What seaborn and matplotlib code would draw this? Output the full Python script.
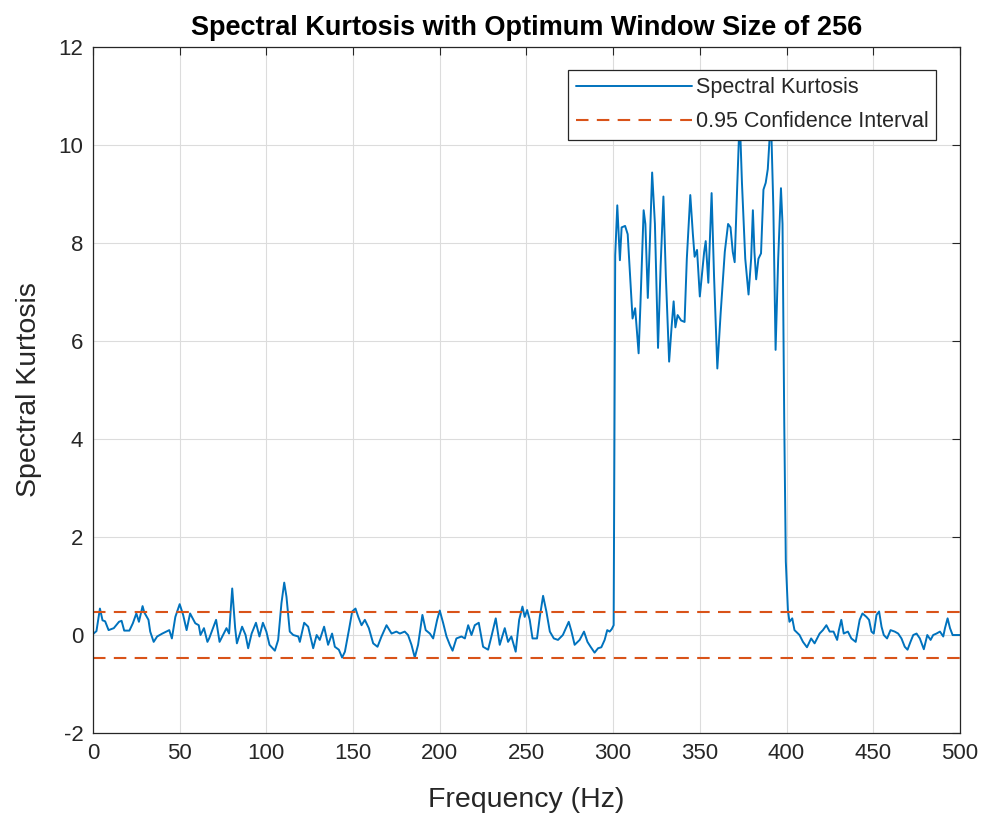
import numpy as np
import pandas as pd
import seaborn as sns
import matplotlib
matplotlib.use("Agg")
import matplotlib.pyplot as plt

# data
freq = [0, 2, 4, 5.5, 7, 9, 12, 15, 16.5, 18, 21, 23, 25, 26.5, 28.6, 29.6, 32, 33, 35, 37,
        40, 44, 45.5, 47.5, 50, 52, 54, 56, 59, 61, 62, 64, 66, 67, 71, 73, 75, 77, 78.5, 80.3,
        82, 83, 86, 88, 89.5, 91.5, 94, 96, 98, 100, 101.8, 104.9, 106.8, 108.7, 110.3, 111.6,
        113.5, 115.5, 118.4, 119.3, 121.8, 124.1, 127, 129, 130.8, 133.3, 135.6, 137.9, 139.5,
        141.8, 143.7, 145.3, 147.6, 149.5, 151.4, 153, 154.9, 156.8, 159.1, 161.6, 164.1, 166.4,
        169.3, 172.2, 175, 177, 179.8, 181.7, 183.7, 185.6, 187.5, 190, 191.9, 194.3, 196.2,
        198.5, 200, 202, 203.9, 205.8, 207.4, 209.6, 212.5, 214.5, 216.4, 218.3, 220.2, 222.5,
        225, 227.9, 229.8, 232.3, 234.6, 237.5, 239.4, 241.3, 243.8, 245.8, 247.7, 249, 250.4,
        251.9, 253.5, 256.1, 257.7, 259.6, 261.5, 263.5, 265.8, 268.2, 271, 274.4, 276, 277.8,
        280.7, 283.2, 285.2, 287, 289.3, 291.3, 293.2, 295.1, 296.6, 298, 299.2, 300.3, 301.2,
        302.4, 303.9, 304.9, 306.9, 308.4, 309.8, 311.2, 312.7, 314.7, 315.7, 317.6, 318.6, 320,
        321.2, 322.5, 324.1, 325.9, 327.4, 329, 330.4, 332.3, 333.7, 334.9, 335.9, 337.2, 339.2,
        341.2, 342.5, 344.5, 346, 347, 348.4, 350, 352.5, 353.4, 354.9, 356.8, 358.2, 360.1, 362,
        364.4, 366.3, 367.7, 369, 370.1, 371.5, 373, 374.3, 376.2, 378.1, 379.6, 380.6, 381.5,
        382.5, 383.8, 385.3, 386.7, 388, 389.2, 391, 392.4, 393.7, 395.2, 396.8, 397.7, 398.7,
        399.6, 400.8, 401.7, 403.3, 404.6, 407.5, 409.5, 411.8, 414.2, 416.2, 419.1, 421, 423,
        424.9, 427.1, 429.2, 430.2, 431.6, 433, 435.4, 437.4, 439.9, 442.2, 443.8, 446.1, 447.6,
        449, 450.3, 451.9, 453.4, 454.8, 456.1, 458, 460, 462.4, 464.4, 466.3, 468.2, 469.8,
        471.5, 473.1, 475, 476.9, 479.2, 481.2, 483.1, 484.6, 486.5, 488.5, 490.4, 491.4, 492.9,
        494.3, 495.8, 498, 500]
kurt = [0.02, 0.08, 0.54, 0.3, 0.28, 0.1, 0.14, 0.27, 0.29, 0.09, 0.09, 0.24, 0.44, 0.27, 0.59,
        0.46, 0.31, 0.07, -0.14, -0.03, 0.03, 0.1, -0.07, 0.37, 0.63, 0.41, 0.1, 0.44, 0.24, 0.2,
        0.0, 0.14, -0.14, -0.07, 0.31, -0.14, 0.0, 0.14, 0.03, 0.95, 0.14, -0.17, 0.17, 0.0,
        -0.27, 0.03, 0.25, -0.03, 0.25, 0.07, -0.2, -0.32, -0.1, 0.65, 1.07, 0.78, 0.07, 0.0,
        -0.03, -0.14, 0.25, 0.17, -0.27, 0.0, -0.1, 0.17, -0.2, 0.03, -0.24, -0.3, -0.46, -0.34,
        0.1, 0.48, 0.54, 0.37, 0.2, 0.31, 0.14, -0.17, -0.24, -0.03, 0.2, 0.03, 0.07, 0.03, 0.07,
        0.0, -0.2, -0.46, -0.2, 0.41, 0.1, 0.03, -0.07, 0.31, 0.5, 0.24, -0.03, -0.2, -0.32,
        -0.07, -0.03, -0.07, 0.2, 0.0, 0.2, 0.25, -0.24, -0.3, -0.03, 0.34, -0.2, 0.14, -0.14,
        -0.03, -0.34, 0.31, 0.58, 0.37, 0.51, 0.31, -0.07, -0.07, 0.37, 0.8, 0.48, 0.07, -0.07,
        -0.1, 0.0, 0.27, 0.07, -0.2, -0.1, 0.07, -0.14, -0.24, -0.36, -0.27, -0.25, -0.1, 0.1,
        0.07, 0.12, 0.2, 7.75, 8.77, 7.65, 8.32, 8.35, 8.18, 7.33, 6.46, 6.67, 5.75, 6.7, 8.67,
        8.39, 6.88, 8.04, 9.44, 8.39, 5.86, 7.54, 8.95, 7.33, 5.58, 6.28, 6.81, 6.28, 6.53, 6.42,
        6.39, 7.68, 8.98, 8.18, 7.72, 7.86, 6.91, 7.82, 8.04, 7.19, 9.02, 7.33, 5.44, 6.56, 7.82,
        8.39, 8.32, 7.82, 7.61, 9.09, 10.6, 9.23, 7.68, 6.95, 7.68, 8.67, 7.82, 7.26, 7.68, 7.79,
        9.09, 9.23, 9.51, 10.6, 8.74, 5.82, 7.68, 9.12, 8.39, 4.32, 1.5, 0.51, 0.27, 0.34, 0.1,
        0.0, -0.14, -0.25, -0.07, -0.17, 0.03, 0.1, 0.2, 0.07, 0.07, -0.1, 0.1, 0.31, 0.03, 0.07,
        -0.07, -0.14, 0.31, 0.44, 0.37, 0.31, 0.07, 0.03, 0.41, 0.48, 0.17, 0.0, -0.07, 0.1,
        0.07, 0.03, -0.07, -0.24, -0.3, -0.14, 0.0, 0.03, -0.07, -0.29, 0.0, -0.1, 0.0, 0.03,
        0.07, -0.03, 0.14, 0.34, 0.14, 0.0, 0.0, 0.0]
ci = [0.46, -0.46]

df = pd.DataFrame({"Frequency": freq, "SK": kurt})

sns.set_style("whitegrid")
plt.rcParams['font.family'] = ['Liberation Sans', 'DejaVu Sans']
plt.rcParams['axes.unicode_minus'] = False

fig = plt.figure(figsize=(9.84, 8.19), dpi=100)
ax = fig.add_axes([0.0945, 0.105, 0.881, 0.8375])

sns.lineplot(data=df, x="Frequency", y="SK", color="#0072BD", linewidth=1.4,
             estimator=None, sort=False, ax=ax, label="Spectral Kurtosis")
for i, c in enumerate(ci):
    ax.axhline(c, color="#D95319", linestyle=(0, (6, 4)), linewidth=1.5,
               label="0.95 Confidence Interval" if i == 0 else None)

ax.set_xlim(0, 500)
ax.set_ylim(-2, 12)
ax.set_xticks(range(0, 501, 50))
ax.set_yticks(range(-2, 13, 2))
ax.grid(True, color="#dcdcdc", linewidth=0.8)
for s in ax.spines.values():
    s.set_color("#262626")
    s.set_linewidth(0.9)
ax.tick_params(direction="in", length=6, width=0.8, color="#262626",
               top=True, right=True, labelsize=16, labelcolor="#262626", pad=7)

ax.set_xlabel("Frequency (Hz)", fontsize=20.5, color="#262626", labelpad=17)
ax.set_ylabel("Spectral Kurtosis", fontsize=20.5, color="#262626", labelpad=12)
ax.set_title("Spectral Kurtosis with Optimum Window Size of 256", fontsize=19.5,
             fontweight="bold", color="black", pad=9)

leg = ax.legend(loc="upper right", fontsize=15.5, handlelength=5.4, frameon=True,
                fancybox=False, framealpha=1, edgecolor="#262626",
                bbox_to_anchor=(0.973, 0.967), borderpad=0.35, labelspacing=0.6,
                handletextpad=0.2, borderaxespad=0)
leg.get_frame().set_linewidth(0.9)

fig.savefig("out.png", dpi=100, facecolor="white")
